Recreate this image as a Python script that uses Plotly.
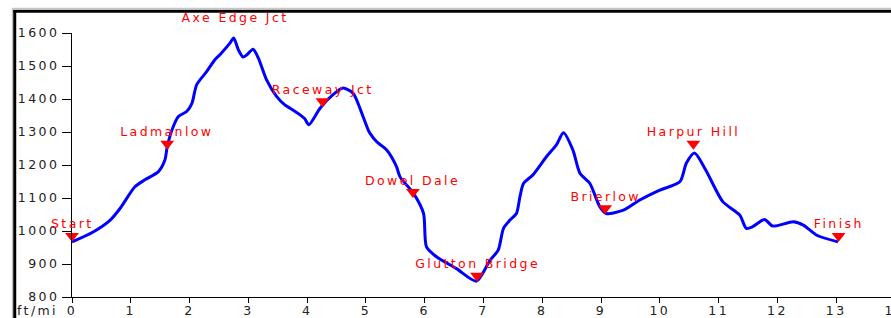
import plotly.graph_objects as go

# ---- data (miles, feet) ----
miles = [0.00, 0.36, 0.65, 0.82, 1.07, 1.24, 1.47, 1.58, 1.62, 1.70, 1.81, 1.95, 2.04, 2.12,
         2.29, 2.43, 2.52, 2.69, 2.75, 2.83, 2.91, 2.98, 3.08, 3.17, 3.31, 3.48, 3.62, 3.71,
         3.88, 3.96, 4.03, 4.22, 4.44, 4.61, 4.78, 4.84, 5.04, 5.07, 5.18, 5.35, 5.52, 5.58,
         5.81, 5.98, 6.03, 6.20, 6.54, 6.88, 7.11, 7.25, 7.34, 7.45, 7.56, 7.62, 7.68, 7.84,
         8.07, 8.24, 8.36, 8.52, 8.64, 8.81, 8.98, 9.09, 9.38, 9.66, 10.00, 10.34, 10.45,
         10.59, 10.78, 11.07, 11.36, 11.47, 11.58, 11.78, 11.92, 12.27, 12.44, 12.67, 13.03]
elev_ft = [967, 997, 1033, 1069, 1134, 1155, 1180, 1215, 1255, 1306, 1347, 1362, 1387, 1443,
           1483, 1519, 1535, 1570, 1585, 1549, 1527, 1535, 1551, 1524, 1458, 1408, 1382, 1372,
           1352, 1340, 1322, 1372, 1413, 1433, 1418, 1398, 1306, 1296, 1271, 1246, 1195, 1164,
           1114, 1053, 952, 922, 886, 848, 911, 942, 1008, 1033, 1053, 1104, 1144, 1170,
           1225, 1261, 1298, 1246, 1175, 1144, 1073, 1053, 1063, 1094, 1124, 1149, 1205,
           1236, 1185, 1089, 1048, 1008, 1013, 1035, 1015, 1028, 1018, 987, 967]

wp_names = ["Start", "Ladmanlow", "Axe Edge Jct", "Raceway Jct", "Dowel Dale",
            "Glutton Bridge", "Brierlow", "Harpur Hill", "Finish"]
wp_miles = [0.00, 1.62, 2.77, 4.26, 5.80, 6.89, 9.07, 10.57, 13.04]
wp_elev = [967, 1246, 1592, 1375, 1100, 846, 1051, 1246, 967]

x_ticks = list(range(0, 15))
y_ticks = list(range(800, 1700, 100))
axis_unit_label = "ft/mi"

# ---- layout geometry ----
W, H = 900, 318
ML, MT, MB = 72, 33, 21
PX_PER_MI = 58.82
MR = W - ML - 14 * PX_PER_MI
PW = W - ML - MR
PH = H - MT - MB
FT_PER_PX = (1600 - 800) / PH


def px_x(px):
    return (px - ML) / PW


def px_y(py):
    return (H - MB - py) / PH


FONT = "DejaVu Sans"

fig = go.Figure()
fig.add_trace(go.Scatter(
    x=miles, y=elev_ft, mode="lines",
    line=dict(color="#0000ff", width=3, shape="spline", smoothing=0.7),
    hoverinfo="skip", showlegend=False))
fig.add_trace(go.Scatter(
    x=wp_miles, y=[e + 6 * FT_PER_PX for e in wp_elev], mode="markers",
    marker=dict(symbol="triangle-down", size=12, color="#ff0000", line=dict(width=0)),
    cliponaxis=False, hoverinfo="skip", showlegend=False))

annotations = []
for n, m, e in zip(wp_names, wp_miles, wp_elev):
    annotations.append(dict(x=m, y=e, xref="x", yref="y", text=n, showarrow=False,
                            yshift=18, xanchor="center", yanchor="middle",
                            font=dict(family=FONT, size=12.5, color="#ff0000")))
annotations.append(dict(x=px_x(37), y=px_y(310.5), xref="paper", yref="paper",
                        text=axis_unit_label, showarrow=False, xanchor="center",
                        yanchor="middle", font=dict(family=FONT, size=12.5, color="#222222")))

shapes = [
    dict(type="line", xref="paper", yref="paper", x0=px_x(12), x1=px_x(W), y0=px_y(8.3), y1=px_y(8.3),
         line=dict(color="#b8b8b8", width=1)),
    dict(type="line", xref="paper", yref="paper", x0=px_x(12.3), x1=px_x(12.3), y0=px_y(8), y1=px_y(H + 5),
         line=dict(color="#b8b8b8", width=1)),
    dict(type="line", xref="paper", yref="paper", x0=px_x(13.3), x1=px_x(W), y0=px_y(11.3), y1=px_y(11.3),
         line=dict(color="#000000", width=3)),
    dict(type="line", xref="paper", yref="paper", x0=px_x(14.7), x1=px_x(14.7), y0=px_y(10), y1=px_y(H + 5),
         line=dict(color="#000000", width=3)),
]

fig.update_layout(
    width=W, height=H, margin=dict(l=ML, r=MR, t=MT, b=MB, pad=0, autoexpand=False),
    paper_bgcolor="white", plot_bgcolor="white",
    annotations=annotations, shapes=shapes, showlegend=False,
    xaxis=dict(range=[0, 14], tickvals=x_ticks, showgrid=False, zeroline=False,
               automargin=False, ticklabeloverflow="allow", ticklabelstandoff=-3,
               showline=True, linecolor="black", linewidth=1, ticks="outside",
               ticklen=5, tickcolor="black", tickwidth=1,
               tickfont=dict(family=FONT, size=12.5, color="#222222")),
    yaxis=dict(range=[800, 1600], tickvals=y_ticks, showgrid=False, zeroline=False,
               automargin=False,
               showline=True, linecolor="black", linewidth=1, ticks="outside",
               ticklen=9, tickcolor="black", tickwidth=1,
               tickfont=dict(family=FONT, size=12.5, color="#222222")),
)

post = """
var st = document.createElement('style');
st.innerHTML = 'body{margin:0;overflow:hidden;} .xtick text, .ytick text {letter-spacing:2.5px;} .annotation-text {letter-spacing:2.4px;}';
document.head.appendChild(st);
"""
fig.write_html("out.html", post_script=post, config={"displayModeBar": False})
